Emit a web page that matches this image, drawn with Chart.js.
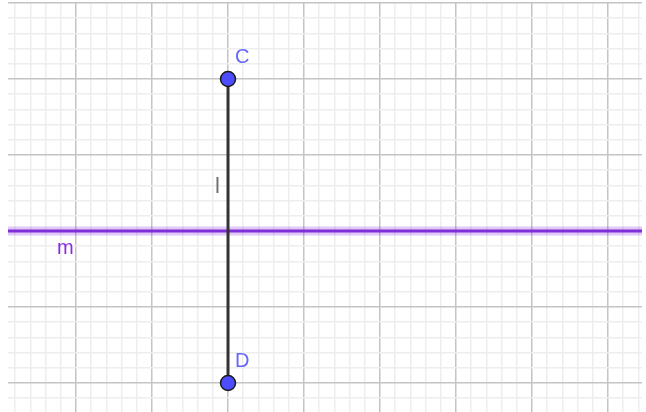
<!DOCTYPE html>
<html>
<head>
<meta charset="utf-8">
<script src="https://cdn.jsdelivr.net/npm/chart.js@4.4.1/dist/chart.umd.min.js"></script>
<style>
  html, body { margin: 0; padding: 0; background: #fff; }
  #wrap { width: 646px; height: 412px; }
</style>
</head>
<body>
<div id="wrap"><canvas id="geo"></canvas></div>
<script>
// points and objects
const pointNames = ['C', 'D'];
const pointX = [0, 0];
const pointY = [2, -2];
const lineM = [[-4, 0], [7, 0]];      // y = 0
const segL = [0, 1];                  // from C to D
// view window
const xRange = [-2.895, 5.447];
const yRange = [-2.382, 3];
const majorStep = 1;
const minorStep = 0.2;

const pts = pointX.map((x, i) => ({ x: x, y: pointY[i] }));

function gridTicks(lo, hi) {
  const out = [];
  for (let k = Math.ceil(lo / minorStep); k * minorStep <= hi + 1e-9; k++) {
    out.push({ value: +(k * minorStep).toFixed(6) });
  }
  return out;
}
function isMajor(v) {
  return Math.abs(v / majorStep - Math.round(v / majorStep)) < 1e-6;
}

const labelPlugin = {
  id: 'labels',
  afterDatasetsDraw(chart) {
    const c = chart.ctx, xs = chart.scales.x, ys = chart.scales.y;
    c.save();
    c.font = '20px "Liberation Sans", Arial, sans-serif';
    c.textBaseline = 'alphabetic';
    // point labels
    c.fillStyle = '#6666ff';
    pts.forEach((p, i) => {
      c.fillText(pointNames[i], xs.getPixelForValue(p.x) + 7, ys.getPixelForValue(p.y) - 16);
    });
    // line label
    c.fillStyle = '#8a2be2';
    c.fillText('m', xs.getPixelForValue(-2.25), ys.getPixelForValue(0) + 23);
    // segment label
    c.fillStyle = '#707070';
    c.font = '22px "Liberation Sans", Arial, sans-serif';
    c.fillText('l', xs.getPixelForValue(-0.17), ys.getPixelForValue(0.5));
    c.restore();
  }
};

function noSize(s) {
  s.paddingLeft = 0; s.paddingRight = 0; s.paddingTop = 0; s.paddingBottom = 0;
  if (s.isHorizontal()) s.height = 0; else s.width = 0;
}

new Chart(document.getElementById('geo'), {
  type: 'scatter',
  data: {
    datasets: [
      {
        label: 'm halo',
        data: lineM.map(p => ({ x: p[0], y: p[1] })),
        showLine: true,
        borderColor: 'rgba(138, 43, 226, 0.25)',
        borderWidth: 9,
        pointRadius: 0,
        order: 4
      },
      {
        label: 'm',
        data: lineM.map(p => ({ x: p[0], y: p[1] })),
        showLine: true,
        borderColor: '#7f2fd8',
        borderWidth: 3,
        pointRadius: 0,
        order: 3
      },
      {
        label: 'l',
        data: segL.map(i => pts[i]),
        showLine: true,
        borderColor: '#333333',
        borderWidth: 3,
        pointRadius: 0,
        order: 2
      },
      {
        label: 'points',
        data: pts,
        pointRadius: 7.5,
        pointHoverRadius: 7.5,
        pointBackgroundColor: '#4d4dff',
        pointBorderColor: '#1a1a1a',
        pointBorderWidth: 1.5,
        order: 1
      }
    ]
  },
  options: {
    responsive: true,
    maintainAspectRatio: false,
    animation: false,
    layout: { autoPadding: false, padding: { left: 8, top: 3, right: 4, bottom: 0 } },
    scales: {
      x: {
        type: 'linear',
        min: xRange[0], max: xRange[1],
        afterBuildTicks: s => { s.ticks = gridTicks(xRange[0], xRange[1]); },
        afterFit: noSize,
        border: { display: false },
        ticks: { display: false },
        grid: {
          drawTicks: false,
          color: c => isMajor(c.tick.value) ? '#c4c4c4' : '#eeeeee',
          lineWidth: 1.5
        }
      },
      y: {
        type: 'linear',
        min: yRange[0], max: yRange[1],
        afterBuildTicks: s => { s.ticks = gridTicks(yRange[0], yRange[1]); },
        afterFit: noSize,
        border: { display: false },
        ticks: { display: false },
        grid: {
          drawTicks: false,
          color: c => isMajor(c.tick.value) ? '#c4c4c4' : '#eeeeee',
          lineWidth: 1.5
        }
      }
    },
    plugins: {
      legend: { display: false },
      tooltip: { enabled: false }
    }
  },
  plugins: [labelPlugin]
});
</script>
</body>
</html>
